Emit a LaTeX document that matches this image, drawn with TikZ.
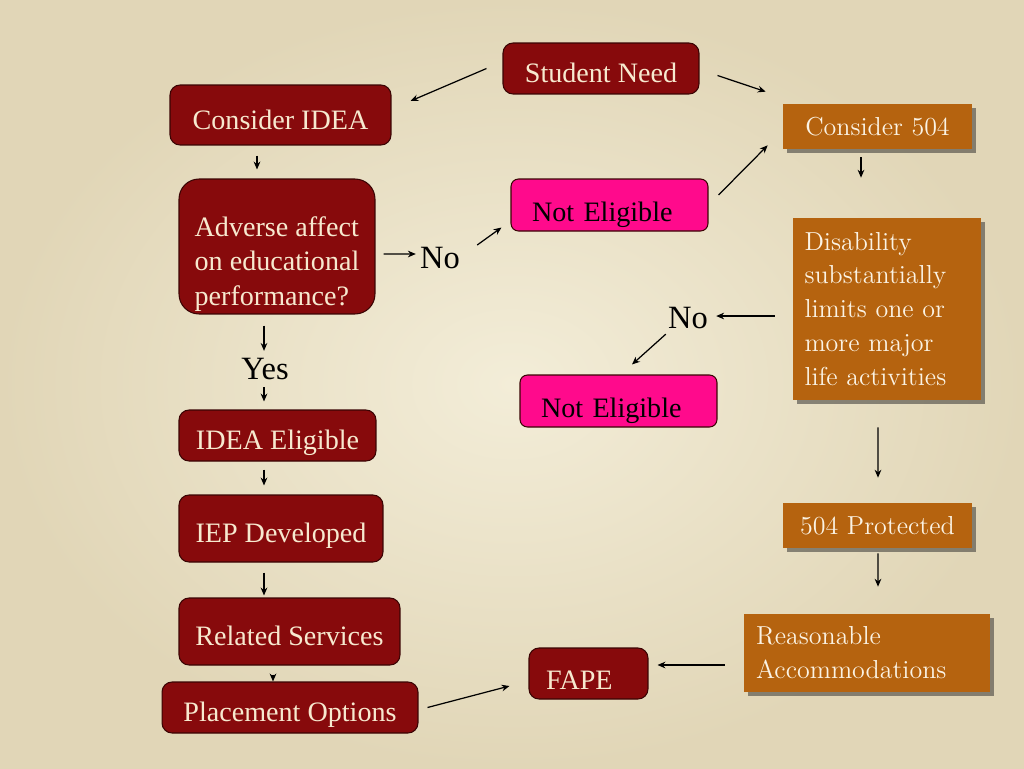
\documentclass[tikz,border=0pt]{standalone}
\usepackage{fontspec}
\newfontfamily\timesf{Liberation Serif}
\usetikzlibrary{arrows.meta, calc, shadows}
\definecolor{bgin}{HTML}{F3EDD8}
\definecolor{bgout}{HTML}{E1D6B7}
\definecolor{redc}{HTML}{870A0C}
\definecolor{redline}{HTML}{3A0404}
\definecolor{creamc}{HTML}{F7E9CF}
\definecolor{orc}{HTML}{B5630F}
\definecolor{pinkc}{HTML}{FF0A8C}

\tikzset{
  redbox/.style={draw=redline, fill=redc, text=creamc, line width=0.6pt,
                 rounded corners=0.2cm, inner sep=0pt,
                 font=\timesf\fontsize{16}{19.6}\selectfont},
  redone/.style={redbox, text height=16pt, text depth=0pt},
  pinkbox/.style={draw=redline, fill=pinkc, text=black, line width=0.6pt,
                  rounded corners=0.15cm, inner ysep=0pt, inner xsep=0.42cm,
                  align=left, text width=3.1cm, text height=18.6pt, text depth=0pt,
                  minimum width=3.94cm, minimum height=1.04cm,
                  font=\timesf\fontsize{16}{19.6}\selectfont},
  orbox/.style={fill=orc, text=creamc!55!white,
                inner sep=0pt, font=\fontsize{14.8}{19.3}\selectfont,
                drop shadow={shadow xshift=2.5pt, shadow yshift=-2.5pt,
                             opacity=0.5, fill=black!85}},
  lbl/.style={inner sep=0pt, font=\timesf\fontsize{18.5}{22}\selectfont},
  arr/.style={-{Stealth[length=4.5pt, width=3.8pt]}, line width=0.7pt, black}
}

\begin{document}
\begin{tikzpicture}[x=0.02cm, y=-0.02cm]
  \useasboundingbox (0,0) rectangle (1024,768);
  \shade[inner color=bgin, outer color=bgout] (0,0) rectangle (1024,768);

  % IDEA side
  \node[redone, minimum width=3.92cm, minimum height=1.02cm] (need) at (601,68.5) {Student Need};
  \node[redone, minimum width=4.42cm, minimum height=1.2cm] (idea) at (280.5,115) {Consider IDEA};
  \node[redbox, rounded corners=0.4cm, align=left,
        minimum width=3.92cm, minimum height=2.7cm] (adv) at (277,246.5)
        {\rule{0pt}{31pt}Adverse affect\\on educational\\performance?};
  \node[lbl] (no1) at (440,258) {No};
  \node[pinkbox] (ne1) at (609.5,205) {Not Eligible};
  \node[lbl] (yes) at (265,369) {Yes};
  \node[redone, minimum width=3.94cm, minimum height=1.02cm] (elig) at (277.5,435.5) {IDEA Eligible};
  \node[redone, minimum width=4.08cm, minimum height=1.34cm] (iep) at (281,528.5) {IEP Developed};
  \node[redone, minimum width=4.42cm, minimum height=1.34cm] (rel) at (289.5,631.5) {Related Services};
  \node[redone, minimum width=5.12cm, minimum height=1.02cm] (place) at (290,707.5) {Placement Options};
  \node[redone, align=left, text width=1.7cm, inner xsep=0.34cm, text height=18.6pt,
        minimum width=2.38cm, minimum height=1.02cm] (fape) at (588.5,673.5) {FAPE};

  % 504 side
  \node[orbox, minimum width=3.78cm, minimum height=0.9cm] (c504) at (877.5,126.5) {Consider 504};
  \node[orbox, align=left, text width=3.3cm, inner xsep=0.22cm,
        minimum width=3.76cm, minimum height=3.64cm] (dis) at (887,309)
        {Disability\\substantially\\limits one or\\more major\\life activities};
  \node[lbl] (no2) at (688,318) {No};
  \node[pinkbox] (ne2) at (618.5,401) {Not Eligible};
  \node[orbox, minimum width=3.78cm, minimum height=0.9cm] (p504) at (877.5,525.5) {504 Protected};
  \node[orbox, align=left, text width=4.44cm, inner xsep=0.24cm,
        minimum width=4.92cm, minimum height=1.56cm] (accom) at (867,653)
        {Reasonable\\Accommodations};

  % connectors
  \draw[arr] ($(need.west)+(-16,0)$) -- ($(idea.east)+(19,-14)$);
  \draw[arr] ($(need.east)+(18,7)$) -- ($(c504.north west)+(-17,-12)$);
  \draw[arr] ($(idea.south)+(-23.5,10)$) -- ($(adv.north)+(-20,-9)$);
  \draw[arr] ($(adv.east)+(8,7.5)$) -- ($(no1.west)+(-4,-4)$);
  \draw[arr] ($(no1.east)+(17,-13)$) -- ($(ne1.south west)+(-9,-4)$);
  \draw[arr] ($(ne1.east)+(10,-10)$) -- ($(c504.south west)+(-15,-4)$);
  \draw[arr] ($(c504.south)+(-16.5,8)$) -- ($(dis.north)+(-26,-40)$);
  \draw[arr] ($(dis.west)+(-18,7)$) -- ($(no2.east)+(8,-2)$);
  \draw[arr] ($(no2.south west)+(-2,5)$) -- ($(ne2.north)+(13.5,-10)$);
  \draw[arr] ($(dis.south)+(-9,27)$) -- ($(p504.north)+(0.5,-25)$);
  \draw[arr] ($(adv.south)+(-13,11)$) -- ($(yes.north)+(-1,-7)$);
  \draw[arr] ($(yes.south)+(-1,7)$) -- ($(elig.north)+(-13.5,-8)$);
  \draw[arr] ($(elig.south)+(-13.5,8)$) -- ($(iep.north)+(-17,-9)$);
  \draw[arr] ($(iep.south)+(-17,10)$) -- ($(rel.north)+(-25.5,-2)$);
  \draw[arr] ($(rel.south)+(-16.5,9)$) -- ($(place.north)+(-17,0)$);
  \draw[arr] ($(place.east)+(9,0)$) -- ($(fape.west)+(-19,12.5)$);
  \draw[arr] ($(p504.south)+(0.5,5)$) -- ($(accom.north)+(11,-27)$);
  \draw[arr] ($(accom.west)+(-19,12)$) -- ($(fape.east)+(9,-8.5)$);
\end{tikzpicture}
\end{document}
